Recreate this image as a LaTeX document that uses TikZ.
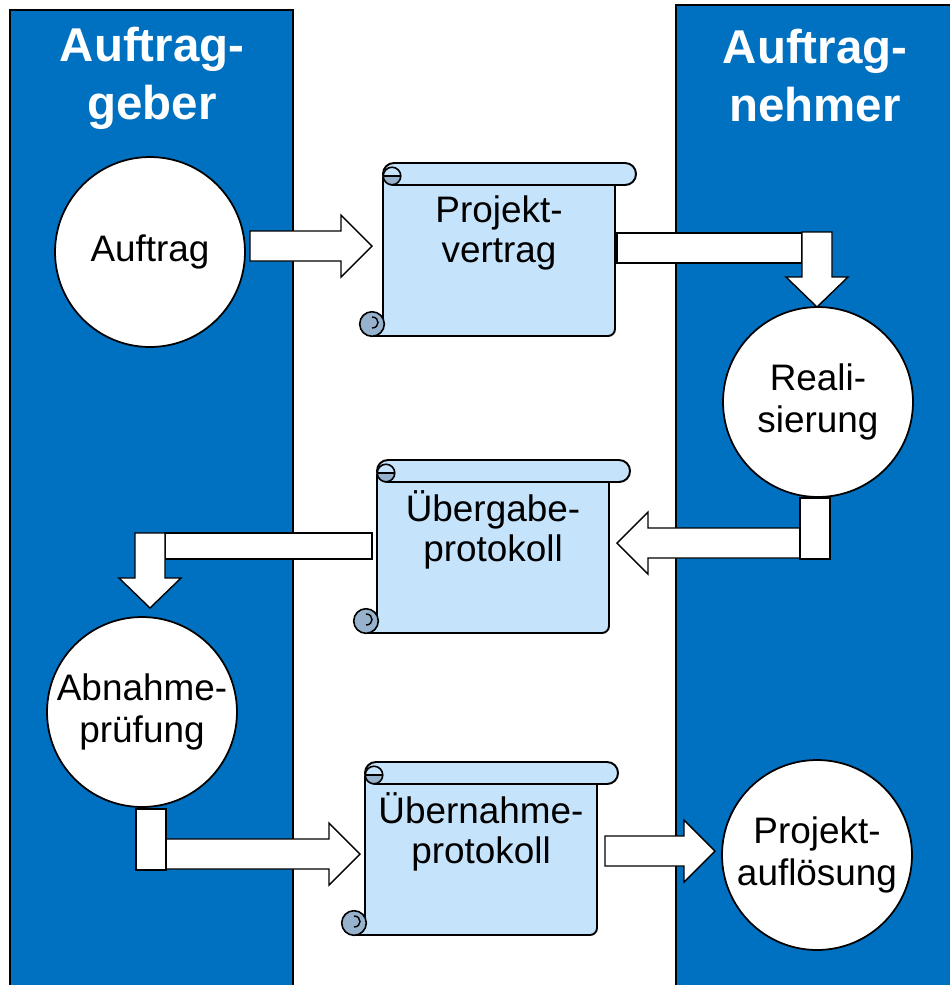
\documentclass[tikz,border=0pt]{standalone}
\usepackage{fontspec}
\setmainfont{Liberation Sans}

\definecolor{laneblue}{RGB}{0,112,192}
\definecolor{scrollblue}{RGB}{197,228,252}
\definecolor{curlgray}{RGB}{150,178,205}

\tikzset{
  lane/.style={fill=laneblue,draw=black,line width=1pt},
  lanehead/.style={text=white,font=\bfseries\fontsize{27}{33}\selectfont,align=center},
  stage/.style={circle,draw=black,fill=white,line width=1pt,minimum size=3.8cm,inner sep=0pt,align=center,font=\fontsize{21}{24}\selectfont},
  doctext/.style={align=center,font=\fontsize{21}{23}\selectfont},
  blockarrow/.style={draw=black,fill=white,line width=0.8pt,line join=miter},
  scrollpaper/.style={draw=black,fill=scrollblue,line width=1.1pt},
  scrollcurl/.style={draw=black,fill=curlgray,line width=0.9pt}
}

% scroll: name, left, top, text
\newcommand\docscroll[4]{%
  \filldraw[scrollpaper] (#2-11,#3+173) [rounded corners=4pt] -- (#2+232,#3+173) -- (#2+232,#3+15) [sharp corners] -- (#2,#3+15) -- (#2,#3+161) -- cycle;
  \draw[scrollpaper,rounded corners=6.2pt] (#2,#3) rectangle (#2+253,#3+22);
  % top curl
  \fill[curlgray] (#2+9,#3+13) circle[radius=5pt];
  \fill[scrollblue] (#2,#3+13) .. controls (#2,#3+0) and (#2+18,#3+0) .. (#2+18,#3+13) -- cycle;
  \draw[line width=0.9pt] (#2+9,#3+13) circle[radius=5pt];
  \draw[line width=0.9pt] (#2+1,#3+13) -- (#2+17,#3+13);
  % bottom curl
  \draw[scrollcurl] (#2-11,#3+161) circle[radius=7pt];
  \draw[line width=0.8pt] (#2-11,#3+154) .. controls (#2-3,#3+154) and (#2-3,#3+165) .. (#2-11,#3+165);
  \node[doctext] (#1) at (#2+116,#3+70) {#4};
}
% block arrows: from, tip, middle
\newcommand\arrowright[3]{%
  \draw[blockarrow] (#1,#3-15) -- (#2-31,#3-15) -- (#2-31,#3-31) -- (#2,#3) -- (#2-31,#3+31) -- (#2-31,#3+15) -- (#1,#3+15) -- cycle;}
\newcommand\arrowleft[3]{%
  \draw[blockarrow] (#1,#3-15) -- (#2+31,#3-15) -- (#2+31,#3-31) -- (#2,#3) -- (#2+31,#3+31) -- (#2+31,#3+15) -- (#1,#3+15) -- cycle;}
\newcommand\arrowdown[3]{%
  \draw[blockarrow] (#1-15,#2) -- (#1-15,#3-30) -- (#1-31,#3-30) -- (#1,#3) -- (#1+31,#3-30) -- (#1+15,#3-30) -- (#1+15,#2) -- cycle;}

\begin{document}
\begin{tikzpicture}[x=0.02cm,y=-0.02cm]
  \useasboundingbox (0,0) rectangle (950,985);

  % lanes
  \draw[lane] (10,10) rectangle (293,1000);
  \draw[lane] (676,5) rectangle (970,1000);
  \node[lanehead] (geber) at (152,78) {Auftrag-\\geber};
  \node[lanehead] (nehmer) at (815,76) {Auftrag-\\nehmer};

  % arrows
  \arrowright{250}{372}{246}
  \draw[blockarrow] (617,233) rectangle (802,263);
  \arrowdown{817}{232}{307}
  \arrowleft{800}{617}{543}
  \draw[blockarrow] (800,498) rectangle (830,559);
  \draw[blockarrow] (165,533) rectangle (372,559);
  \arrowdown{150}{533}{608}
  \arrowright{166}{360}{854}
  \draw[blockarrow] (136,809) rectangle (166,870);
  \arrowright{605}{715}{851}

  % stages
  \node[stage] (auftrag) at (150,252) {Auftrag};
  \node[stage] (realisierung) at (818,402) {Reali-\\sierung};
  \node[stage] (abnahme) at (142,712) {Abnahme-\\prüfung};
  \node[stage] (aufloesung) at (817,855) {Projekt-\\auflösung};

  % documents
  \docscroll{vertrag}{383}{163}{Projekt-\\vertrag}
  \docscroll{uebergabe}{377}{460}{Übergabe-\\protokoll}
  \docscroll{uebernahme}{365}{762}{Übernahme-\\protokoll}
\end{tikzpicture}
\end{document}
